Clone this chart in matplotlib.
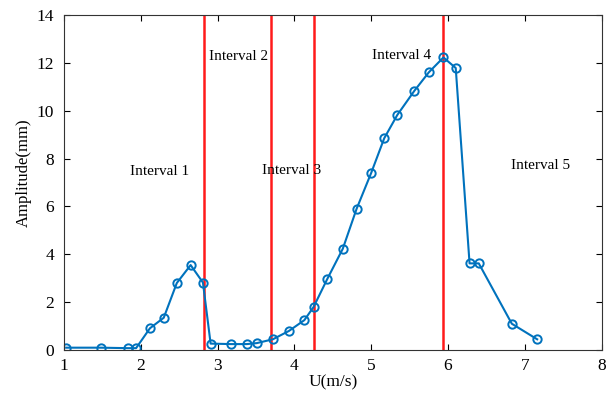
import numpy as np
import matplotlib
matplotlib.use('Agg')
import matplotlib.pyplot as plt

plt.rcParams['font.family'] = ['Liberation Serif', 'DejaVu Serif']

# measured points (wind speed vs amplitude)
u = [1.03, 1.48, 1.83, 1.94, 2.12, 2.30, 2.47, 2.65, 2.81, 2.91, 3.17, 3.38, 3.51,
     3.72, 3.93, 4.13, 4.25, 4.43, 4.63, 4.81, 5.00, 5.17, 5.34, 5.56, 5.75, 5.94,
     6.10, 6.28, 6.40, 6.83, 7.16]
amp = [0.10, 0.10, 0.08, 0.08, 0.91, 1.35, 2.80, 3.55, 2.82, 0.27, 0.25, 0.25, 0.29,
       0.45, 0.80, 1.25, 1.80, 2.98, 4.23, 5.90, 7.40, 8.85, 9.82, 10.82, 11.60, 12.22,
       11.78, 3.62, 3.62, 1.10, 0.45]

# interval boundaries
bounds = [2.82, 3.70, 4.26, 5.93]

labels = ['Interval 1', 'Interval 2', 'Interval 3', 'Interval 4', 'Interval 5']
label_x = [2.25, 3.27, 3.96, 5.39, 7.2]
label_y = [7.45, 12.25, 7.5, 12.3, 7.7]

fig = plt.figure(figsize=(6.14, 4.01), dpi=100)
ax = fig.add_axes([0.104, 0.127, 0.876, 0.836])

for b in bounds:
    ax.axvline(b, color='#ff1a1a', lw=1.8, zorder=1)

ax.plot(u, amp, '-o', color='#0072BD', lw=1.5, ms=6, mfc='none', mew=1.4, zorder=2)

for t, x, y in zip(labels, label_x, label_y):
    ax.text(x, y, t, ha='center', va='center', fontsize=11, zorder=3)

ax.set_xlim(1, 8)
ax.set_ylim(0, 14)
ax.set_xticks(np.arange(1, 9))
ax.set_yticks(np.arange(0, 15, 2))
ax.tick_params(direction='in', top=True, right=True, labelsize=12.5, length=4)
ax.tick_params(axis='x', pad=6)
ax.tick_params(axis='y', pad=7)
for s in ax.spines.values():
    s.set_color('#333333')
ax.set_xlabel('U(m/s)', fontsize=12.5, labelpad=0)
ax.set_ylabel('Amplitude(mm)', fontsize=12)
ax.yaxis.set_label_coords(-0.059, 0.53)

fig.savefig('out.png', dpi=100)
